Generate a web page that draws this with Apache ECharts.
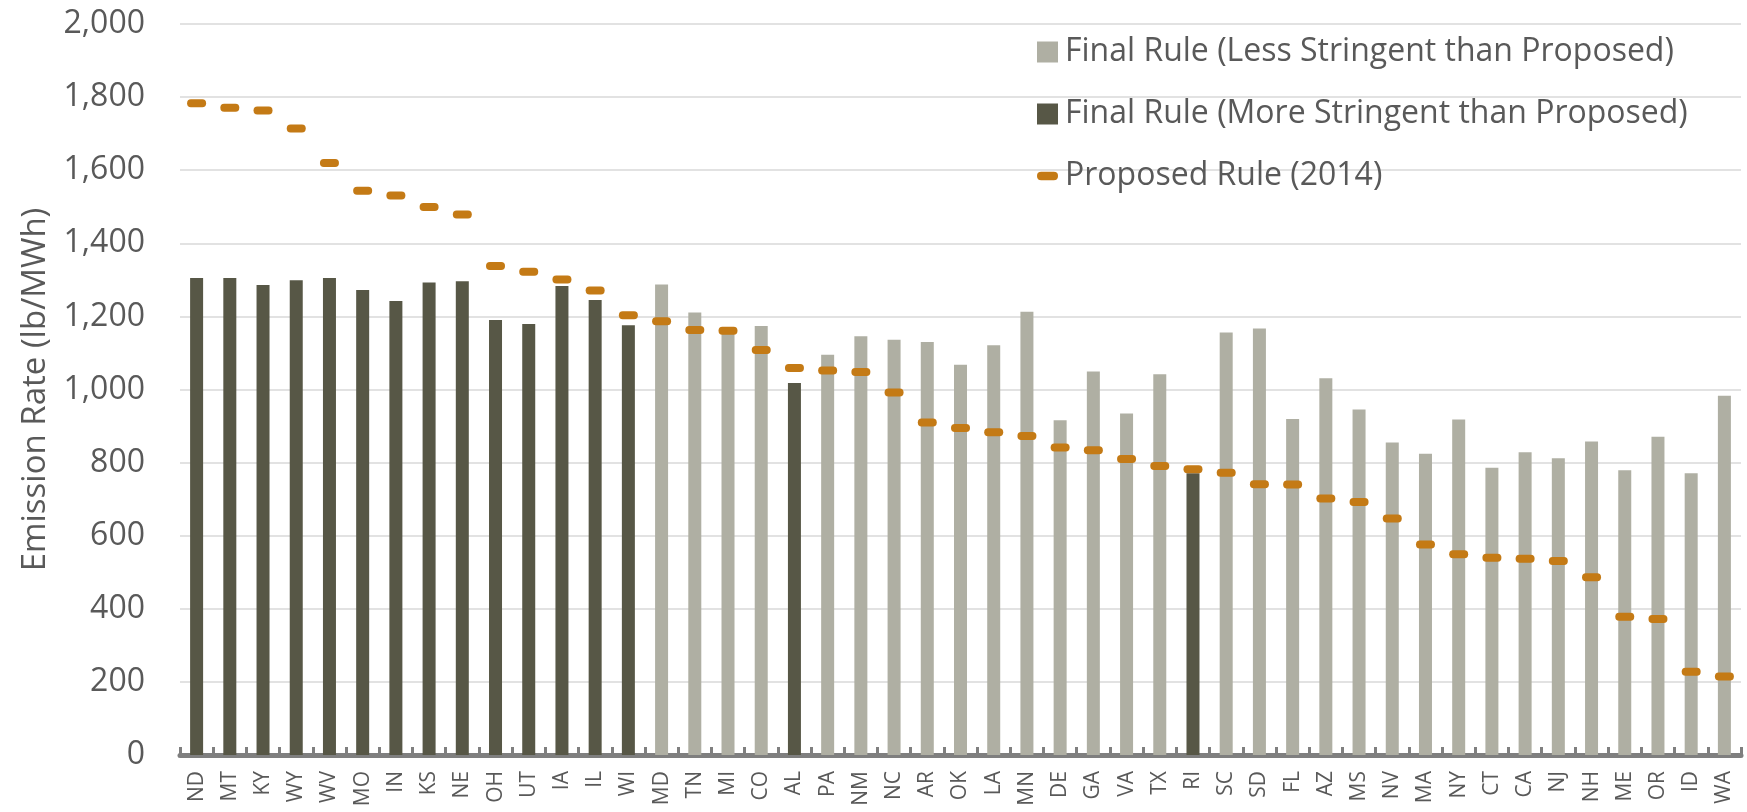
<!DOCTYPE html>
<html lang="en">
<head>
    <meta charset="UTF-8">
    <title>Emission Rate</title>
    <script src="https://cdn.jsdelivr.net/npm/echarts@6/dist/echarts.min.js"></script>
    <style>
        html, body { margin: 0; padding: 0; background: #fff; }
    </style>
</head>
<body>
<div id="chart_bar" style="width: 1747px;height: 812px"></div>
<script>
    // states, in the order shown
    var states = ['ND','MT','KY','WY','WV','MO','IN','KS','NE','OH','UT','IA','IL','WI','MD','TN','MI','CO','AL','PA',
        'NM','NC','AR','OK','LA','MN','DE','GA','VA','TX','RI','SC','SD','FL','AZ','MS','NV','MA','NY','CT',
        'CA','NJ','NH','ME','OR','ID','WA'];
    // final rule rate (lb/MWh)
    var finalRate = [1305,1305,1286,1299,1305,1272,1242,1293,1296,1190,1179,1283,1245,1176,1287,1211,1169,1174,1018,1095,
        1146,1136,1130,1068,1121,1213,916,1049,934,1042,771,1156,1167,919,1031,945,855,824,918,786,
        828,812,858,779,871,771,983];
    // proposed rule (2014) rate (lb/MWh)
    var proposedRate = [1783,1771,1763,1714,1620,1544,1531,1499,1479,1338,1322,1301,1271,1203,1187,1163,1161,1108,1059,1052,
        1048,992,910,895,883,873,841,834,810,791,782,772,741,740,702,692,647,576,549,540,
        537,531,486,378,372,228,215];
    var yTicks = [0,200,400,600,800,1000,1200,1400,1600,1800,2000];

    var lessStr = [], moreStr = [];
    for (var i = 0; i < states.length; i++) {
        if (finalRate[i] < proposedRate[i]) {
            moreStr.push(finalRate[i]);
            lessStr.push(null);
        } else {
            lessStr.push(finalRate[i]);
            moreStr.push(null);
        }
    }

    var dash = 'path://M4,0 L16,0 Q20,0 20,4 Q20,8 16,8 L4,8 Q0,8 0,4 Q0,0 4,0 Z';
    var font = 'Open Sans';

    var option = {
        animation: false,
        grid: {
            left: 180,
            right: 6,
            top: 24,
            bottom: 57
        },
        legend: {
            orient: 'vertical',
            left: 1032,
            top: 27,
            itemWidth: 21,
            itemHeight: 21,
            itemGap: 22,
            textStyle: {
                fontFamily: font,
                fontSize: 32,
                lineHeight: 40,
                color: '#595959',
                padding: [0, 0, 0, 2]
            },
            data: [
                {name: 'Final Rule (Less Stringent than Proposed)', icon: 'rect'},
                {name: 'Final Rule (More Stringent than Proposed)', icon: 'rect'},
                {name: 'Proposed Rule (2014)', icon: dash}
            ]
        },
        xAxis: {
            type: 'category',
            data: states,
            axisLine: {lineStyle: {color: '#7f7f7f', width: 5}},
            axisTick: {show: true, inside: true, length: 8, lineStyle: {color: '#7f7f7f', width: 3}},
            axisLabel: {
                rotate: 90,
                interval: 0,
                margin: 16,
                fontFamily: font,
                fontSize: 21,
                color: '#595959'
            }
        },
        yAxis: {
            type: 'value',
            min: yTicks[0],
            max: yTicks[yTicks.length - 1],
            interval: 200,
            name: 'Emission Rate (lb/MWh)',
            nameLocation: 'middle',
            nameGap: 128,
            nameTextStyle: {fontFamily: font, fontSize: 33, color: '#595959'},
            axisLine: {show: false},
            axisTick: {show: false},
            axisLabel: {
                margin: 35,
                fontFamily: font,
                fontSize: 32,
                color: '#595959',
                formatter: function (v) { return v.toLocaleString('en-US'); }
            },
            splitLine: {lineStyle: {color: '#d9d9d9', width: 1.5}}
        },
        series: [
            {
                name: 'Final Rule (Less Stringent than Proposed)',
                type: 'bar',
                barWidth: 13,
                barGap: '-100%',
                itemStyle: {color: '#afafa3'},
                data: lessStr
            },
            {
                name: 'Final Rule (More Stringent than Proposed)',
                type: 'bar',
                barWidth: 13,
                barGap: '-100%',
                itemStyle: {color: '#575746'},
                data: moreStr
            },
            {
                name: 'Proposed Rule (2014)',
                type: 'scatter',
                symbol: dash,
                symbolSize: [19, 8],
                symbolKeepAspect: false,
                itemStyle: {color: '#c47a15', opacity: 1},
                z: 5,
                data: proposedRate
            }
        ]
    };

    var chart_bar = echarts.init(document.getElementById('chart_bar'));
    chart_bar.setOption(option);
</script>
</body>
</html>
